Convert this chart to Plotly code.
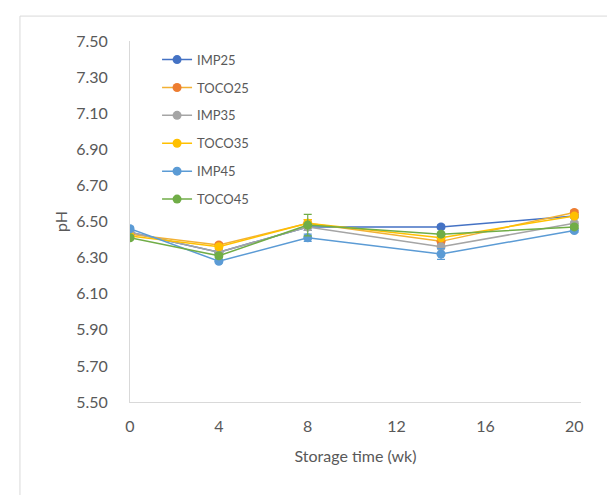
import plotly.graph_objects as go

weeks = [0, 4, 8, 14, 20]
series_names = ["IMP25", "TOCO25", "IMP35", "TOCO35", "IMP45", "TOCO45"]
imp25 = [6.44, 6.33, 6.47, 6.47, 6.53]
toco25 = [6.43, 6.37, 6.49, 6.39, 6.55]
imp35 = [6.44, 6.33, 6.47, 6.36, 6.49]
toco35 = [6.42, 6.36, 6.49, 6.41, 6.53]
imp45 = [6.46, 6.28, 6.41, 6.32, 6.45]
toco45 = [6.41, 6.31, 6.48, 6.43, 6.47]
err_imp25 = [0.01, 0.01, 0.02, 0.01, 0.01]
err_toco25 = [0.01, 0.01, 0.02, 0.01, 0.01]
err_imp35 = [0.01, 0.01, 0.02, 0.01, 0.01]
err_toco35 = [0.01, 0.01, 0.02, 0.01, 0.01]
err_imp45 = [0.01, 0.01, 0.02, 0.03, 0.01]
err_toco45 = [0.01, 0.01, 0.06, 0.01, 0.01]
y_ticks = [5.5, 5.7, 5.9, 6.1, 6.3, 6.5, 6.7, 6.9, 7.1, 7.3, 7.5]
x_ticks = [0, 4, 8, 12, 16, 20]

values = [imp25, toco25, imp35, toco35, imp45, toco45]
errors = [err_imp25, err_toco25, err_imp35, err_toco35, err_imp45, err_toco45]
line_colors = ["#4472C4", "#F2B134", "#A5A5A5", "#FFC000", "#5B9BD5", "#70AD47"]
marker_colors = ["#4472C4", "#ED7D31", "#A5A5A5", "#FFC000", "#5B9BD5", "#70AD47"]

fig = go.Figure()
for name, v, e, lc, mc in zip(series_names, values, errors, line_colors, marker_colors):
    fig.add_trace(go.Scatter(
        x=weeks, y=v, name=name, legendgroup=name, mode="lines+markers",
        line=dict(color=lc, width=1.5),
        marker=dict(color=mc, size=9),
        error_y=dict(type="data", array=e, color=mc, thickness=1.2, width=4),
    ))

fig.update_layout(
    width=615, height=495,
    margin=dict(l=122, r=42, t=33, b=101),
    paper_bgcolor="white", plot_bgcolor="white",
    font=dict(family="Lato, Open Sans, sans-serif", size=16, color="#595959"),
    showlegend=True,
    legend=dict(x=0.06, y=0.99, xanchor="left", yanchor="top",
                bgcolor="rgba(0,0,0,0)", font=dict(size=13, color="#595959"),
                tracegroupgap=8),
    xaxis=dict(range=[0, 20.3], tickvals=x_ticks, showgrid=False, zeroline=False,
               showline=True, linecolor="#D9D9D9", linewidth=1, ticks="",
               ticklabelstandoff=10,
               title=dict(text="Storage time (wk)", standoff=16, font=dict(size=16))),
    yaxis=dict(range=[5.5, 7.5], tickvals=y_ticks, tickformat=".2f", showgrid=False,
               zeroline=False, showline=True, linecolor="#D9D9D9", linewidth=1,
               ticks="", ticklabelstandoff=18,
               title=dict(text="pH", standoff=4, font=dict(size=16))),
    shapes=[dict(type="rect", xref="paper", yref="paper",
                 x0=-0.244, x1=1.0865, y0=-0.29, y1=1.069,
                 line=dict(color="#D9D9D9", width=1), fillcolor="rgba(0,0,0,0)")],
)

fig.write_html("out.html")
